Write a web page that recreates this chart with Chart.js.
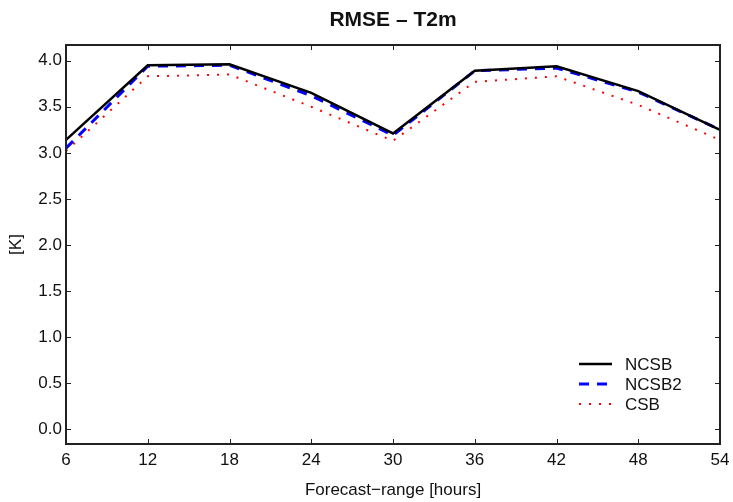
<!DOCTYPE html>
<html>
<head>
<meta charset="utf-8">
<script src="https://cdn.jsdelivr.net/npm/chart.js@4"></script>
<style>
  html, body { margin: 0; padding: 0; background: #fff; }
  #wrap { width: 733px; height: 502px; }
</style>
</head>
<body>
<div id="wrap"><canvas id="rmseChart" width="733" height="502"></canvas></div>
<script>
// forecast ranges (hours)
const hours = [6, 12, 18, 24, 30, 36, 42, 48, 54];
// RMSE values [K]
const ncsb = [3.14, 3.95, 3.96, 3.65, 3.21, 3.89, 3.94, 3.67, 3.25];
const ncsb2 = [3.05, 3.94, 3.95, 3.62, 3.19, 3.89, 3.92, 3.66, 3.25];
const csb = [3.02, 3.83, 3.85, 3.50, 3.13, 3.77, 3.83, 3.52, 3.14];
const yTicks = [0.0, 0.5, 1.0, 1.5, 2.0, 2.5, 3.0, 3.5, 4.0];
const xTicks = [6, 12, 18, 24, 30, 36, 42, 48, 54];
const chartTitle = "RMSE \u2013 T2m";

const FONT = "'Liberation Sans', Arial, sans-serif";

function pts(values) {
  return hours.map((h, i) => ({ x: h, y: values[i] }));
}

// box around plot area with inward ticks on all four sides
const boxPlugin = {
  id: "boxTicks",
  afterDatasetsDraw(chart) {
    const { ctx, chartArea: a, scales } = chart;
    ctx.save();
    ctx.strokeStyle = "#222";
    ctx.lineWidth = 1;
    const len = 5;
    ctx.beginPath();
    scales.x.ticks.forEach((t) => {
      const px = Math.round(scales.x.getPixelForValue(t.value)) + 0.5;
      ctx.moveTo(px, a.bottom); ctx.lineTo(px, a.bottom - len);
      ctx.moveTo(px, a.top); ctx.lineTo(px, a.top + len);
    });
    scales.y.ticks.forEach((t) => {
      const py = Math.round(scales.y.getPixelForValue(t.value)) + 0.5;
      ctx.moveTo(a.left, py); ctx.lineTo(a.left + len, py);
      ctx.moveTo(a.right, py); ctx.lineTo(a.right - len, py);
    });
    ctx.stroke();
    ctx.lineWidth = 2;
    ctx.strokeRect(a.left, a.top, a.right - a.left, a.bottom - a.top);
    ctx.restore();
  },
};

// title centred over the plot area
const plotTitle = {
  id: "plotTitle",
  afterDraw(chart) {
    const { ctx, chartArea: a } = chart;
    ctx.save();
    ctx.font = "bold 21px " + FONT;
    ctx.fillStyle = "#111";
    ctx.textAlign = "center";
    ctx.textBaseline = "middle";
    ctx.fillText(chartTitle, (a.left + a.right) / 2, 20);
    ctx.restore();
  },
};

// legend drawn inside the plot, bottom right
const innerLegend = {
  id: "innerLegend",
  afterDraw(chart) {
    const { ctx, chartArea: a } = chart;
    ctx.save();
    ctx.font = "17px " + FONT;
    ctx.textBaseline = "middle";
    chart.data.datasets.forEach((ds, i) => {
      const y = a.bottom - 80 + i * 20;
      const x0 = a.left + 513;
      ctx.strokeStyle = ds.borderColor;
      ctx.lineWidth = ds.borderWidth;
      ctx.setLineDash(ds.borderDash || []);
      ctx.beginPath();
      ctx.moveTo(x0, y);
      ctx.lineTo(x0 + 33, y);
      ctx.stroke();
      ctx.setLineDash([]);
      ctx.fillStyle = "#111";
      ctx.fillText(ds.label, x0 + 46, y + 1);
    });
    ctx.restore();
  },
};

new Chart(document.getElementById("rmseChart"), {
  type: "line",
  data: {
    datasets: [
      {
        label: "NCSB",
        data: pts(ncsb),
        borderColor: "#000000",
        borderWidth: 2.5,
        pointRadius: 0,
        tension: 0,
      },
      {
        label: "NCSB2",
        data: pts(ncsb2),
        borderColor: "#0000ff",
        borderWidth: 3,
        borderDash: [10, 8],
        pointRadius: 0,
        tension: 0,
      },
      {
        label: "CSB",
        data: pts(csb),
        borderColor: "#ff0000",
        borderWidth: 2,
        borderDash: [2, 8],
        pointRadius: 0,
        tension: 0,
      },
    ],
  },
  options: {
    responsive: false,
    animation: false,
    layout: { padding: { left: 0, right: 13, top: 45, bottom: 0 } },
    plugins: {
      legend: { display: false },
      tooltip: { enabled: false },
      title: { display: false },
    },
    scales: {
      x: {
        type: "linear",
        min: 6,
        max: 54,
        afterBuildTicks: (s) => { s.ticks = xTicks.map((v) => ({ value: v })); },
        afterFit: (s) => { s.height = 58; s.paddingLeft = 0; s.paddingRight = 0; },
        grid: { display: false, drawTicks: false },
        border: { display: false },
        ticks: {
          color: "#111",
          padding: 6,
          maxRotation: 0,
          font: { family: FONT, size: 17 },
        },
        title: {
          display: true,
          text: "Forecast\u2212range [hours]",
          color: "#111",
          font: { family: FONT, size: 17 },
          padding: { top: 10, bottom: 1 },
        },
      },
      y: {
        min: -0.16,
        max: 4.17,
        afterBuildTicks: (s) => { s.ticks = yTicks.map((v) => ({ value: v })); },
        afterFit: (s) => { s.width = 66; s.paddingTop = 0; s.paddingBottom = 0; },
        grid: { display: false, drawTicks: false },
        border: { display: false },
        ticks: {
          color: "#111",
          padding: 4,
          font: { family: FONT, size: 17 },
          callback: (v) => Number(v).toFixed(1),
        },
        title: {
          display: true,
          text: "[K]",
          color: "#111",
          font: { family: FONT, size: 17 },
          padding: { top: 6, bottom: 0 },
        },
      },
    },
  },
  plugins: [boxPlugin, plotTitle, innerLegend],
});
</script>
</body>
</html>
